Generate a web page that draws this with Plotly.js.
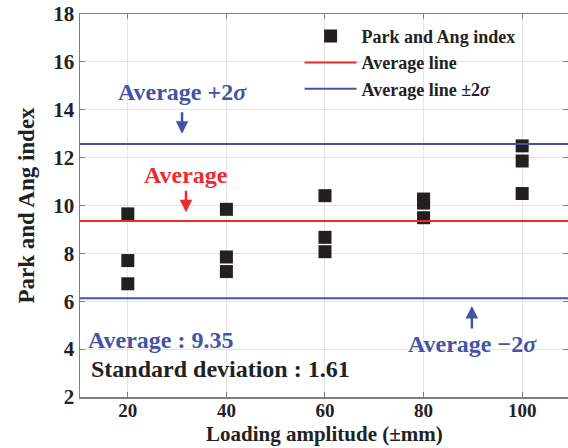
<!DOCTYPE html>
<html>
<head>
<meta charset="utf-8">
<script src="https://cdn.plot.ly/plotly-3.0.1.min.js"></script>
<style>html,body{margin:0;padding:0;background:#fff;}#chart{width:568px;height:448px;}</style>
</head>
<body>
<div id="chart"></div>
<script>
// Data
const amplitudes = [20, 20, 20, 40, 40, 40, 60, 60, 60, 80, 80, 80, 100, 100, 100];
const parkAngIndex = [9.65, 7.70, 6.73, 9.84, 7.85, 7.24, 10.41, 8.67, 8.07, 10.27, 10.10, 9.49, 12.49, 11.86, 10.50];
const averageValue = 9.35;
const stdDeviation = 1.61;
const xTicks = [20, 40, 60, 80, 100];
const yTicks = [2, 4, 6, 8, 10, 12, 14, 16, 18];
const xRange = [10.3, 109.3];
const yRange = [2, 18];

const upper = averageValue + 2 * stdDeviation;
const lower = averageValue - 2 * stdDeviation;
const RED = '#ec2b2f';
const BLUE = '#4453a6';
const FONT = 'Liberation Serif, Times New Roman, serif';

const traces = [
  {
    x: amplitudes, y: parkAngIndex, mode: 'markers', type: 'scatter',
    name: 'Park and Ang index',
    marker: {symbol: 'square', size: 13, color: '#231f20'},
  },
  {
    x: xRange, y: [averageValue, averageValue], mode: 'lines', type: 'scatter',
    name: 'Average line', line: {color: RED, width: 2}
  },
  {
    x: [xRange[0], xRange[1], null, xRange[0], xRange[1]],
    y: [upper, upper, null, lower, lower], mode: 'lines', type: 'scatter',
    name: 'Average line ±2<i>σ</i>', line: {color: BLUE, width: 2}
  }
];

const axisCommon = {
  showline: true, linecolor: '#7f7f7f', linewidth: 1.5, mirror: 'ticks',
  ticks: 'inside', ticklen: 5, tickcolor: '#7f7f7f',
  showgrid: true, gridcolor: '#e4e4e4', gridwidth: 1, zeroline: false,
  tickfont: {family: FONT, size: 21, color: '#222', weight: 'bold'}
};

const layout = {
  width: 568, height: 448,
  margin: {l: 80, r: 0, t: 14, b: 51},
  paper_bgcolor: '#fff', plot_bgcolor: '#fff',
  font: {family: FONT, color: '#222', weight: 'bold'},
  xaxis: Object.assign({}, axisCommon, {
    range: xRange, tickvals: xTicks, ticktext: xTicks.map(String),
    ticklabelstandoff: -4,
    tickfont: {family: FONT, size: 19, color: '#222', weight: 'bold'}
  }),
  yaxis: Object.assign({}, axisCommon, {
    range: yRange, tickvals: yTicks, ticktext: yTicks.map(String),
    title: {text: 'Park and Ang index', font: {family: FONT, size: 23, color: '#222', weight: 'bold'}, standoff: 12}
  }),
  showlegend: true,
  legend: {
    x: 0.45, y: 0.99, xanchor: 'left', yanchor: 'top',
    bgcolor: 'rgba(0,0,0,0)', borderwidth: 0,
    font: {family: FONT, size: 18, color: '#222', weight: 'bold'},
    tracegroupgap: 0, itemwidth: 52
  },
  annotations: [
    {xref: 'paper', yref: 'paper', x: 0.5, y: -0.133, xanchor: 'center', yanchor: 'bottom',
     text: 'Loading amplitude (±mm)', showarrow: false,
     font: {family: FONT, size: 21, color: '#222', weight: 'bold'}},
    {x: 31, y: 14.74, text: 'Average +2<i>σ</i>', showarrow: false,
     font: {family: FONT, size: 24, color: BLUE, weight: 'bold'}},
    {x: 31, y: 13.0, ax: 0, ay: -23, text: '', showarrow: true,
     arrowhead: 2, arrowsize: 1, arrowwidth: 2.5, arrowcolor: BLUE},
    {x: 31.8, y: 11.27, text: 'Average', showarrow: false,
     font: {family: FONT, size: 24, color: RED, weight: 'bold'}},
    {x: 31.8, y: 9.72, ax: 0, ay: -23, text: '', showarrow: true,
     arrowhead: 2, arrowsize: 1, arrowwidth: 2.5, arrowcolor: RED},
    {x: 90, y: 4.22, text: 'Average −2<i>σ</i>', showarrow: false,
     font: {family: FONT, size: 24, color: BLUE, weight: 'bold'}},
    {x: 89.8, y: 5.8, ax: 0, ay: 24, text: '', showarrow: true,
     arrowhead: 2, arrowsize: 1, arrowwidth: 2.5, arrowcolor: BLUE},
    {x: 11.5, y: 4.38, xanchor: 'left', text: 'Average : ' + averageValue.toFixed(2), showarrow: false,
     font: {family: FONT, size: 24, color: BLUE, weight: 'bold'}},
    {x: 12.2, y: 3.17, xanchor: 'left', text: 'Standard deviation : ' + stdDeviation.toFixed(2), showarrow: false,
     font: {family: FONT, size: 24, color: '#222', weight: 'bold'}}
  ]
};

Plotly.newPlot('chart', traces, layout, {displayModeBar: false, staticPlot: true});
</script>
</body>
</html>
